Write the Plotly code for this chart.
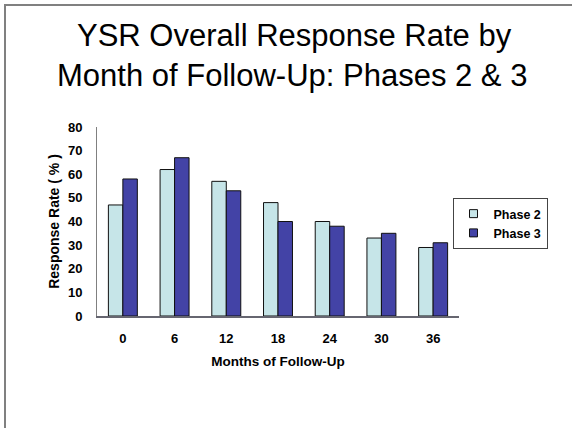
import plotly.graph_objects as go

months = ["0", "6", "12", "18", "24", "30", "36"]
phase2 = [47, 62, 57, 48, 40, 33, 29]
phase3 = [58, 67, 53, 40, 38, 35, 31]
y_ticks = [0, 10, 20, 30, 40, 50, 60, 70, 80]
title_lines = ["YSR Overall Response Rate by", "Month of Follow-Up: Phases 2 & 3"]

W, H = 572, 428
L, R, T, B = 97, 113, 127, 112
pw, ph = W - L - R, H - T - B

def px(x):
    return (x - L) / pw

def py(y):
    return (H - B - y) / ph

font = "Liberation Sans, Arial, sans-serif"
c2, c3 = "#C6E5E8", "#4343A6"
small = dict(size=13, family=font, weight="bold", color="black")

fig = go.Figure()
fig.add_trace(go.Bar(x=months, y=phase2, name="Phase 2", showlegend=False,
                     marker=dict(color=c2, line=dict(color="#111111", width=1))))
fig.add_trace(go.Bar(x=months, y=phase3, name="Phase 3", showlegend=False,
                     marker=dict(color=c3, line=dict(color="#111111", width=1))))
# legend entries with square swatches
for nm, col in (("Phase 2", c2), ("Phase 3", c3)):
    fig.add_trace(go.Scatter(x=[None], y=[None], mode="markers", name=nm,
                             marker=dict(symbol="square", size=8, color=col,
                                         line=dict(color="#111111", width=1))))

annotations = [
    dict(text=title_lines[0], x=px(294), y=py(35)),
    dict(text=title_lines[1], x=px(292), y=py(75)),
]
for a in annotations:
    a.update(xref="paper", yref="paper", xanchor="center", yanchor="middle",
             showarrow=False, font=dict(size=31, family=font, color="black"))

fig.update_layout(
    width=W, height=H,
    margin=dict(l=L, r=R, t=T, b=B, autoexpand=False),
    paper_bgcolor="white", plot_bgcolor="white",
    barmode="group", bargap=0.44, bargroupgap=0,
    font=dict(family=font, color="black"),
    annotations=annotations,
    xaxis=dict(type="category", showline=True, linecolor="#666670", linewidth=2,
               showgrid=False, ticks="", ticklabelstandoff=9, automargin=False,
               tickfont=small,
               title=dict(text="Months of Follow-Up", standoff=12,
                          font=dict(small, size=13.5))),
    yaxis=dict(range=[0, 80], tickvals=y_ticks, showline=True, linecolor="#808080",
               linewidth=1, showgrid=False, zeroline=False, ticks="",
               ticklabelstandoff=11, automargin=False,
               tickfont=small,
               title=dict(text="Response Rate ( % )", standoff=5,
                          font=dict(small, size=14))),
    legend=dict(x=px(500), y=py(198), xanchor="center", yanchor="top",
                bordercolor="#444444", borderwidth=1, bgcolor="white",
                font=dict(small, size=12.5), itemwidth=30, tracegroupgap=0),
    shapes=[
        dict(type="line", xref="paper", yref="paper", x0=px(4), x1=px(572), y0=py(5), y1=py(5),
             line=dict(color="#808080", width=2)),
        dict(type="line", xref="paper", yref="paper", x0=px(5), x1=px(5), y0=py(4), y1=py(428),
             line=dict(color="#808080", width=2)),
    ],
)

fig.write_html("out.html", config={"displayModeBar": False},
               post_script="document.body.style.margin='0';")
